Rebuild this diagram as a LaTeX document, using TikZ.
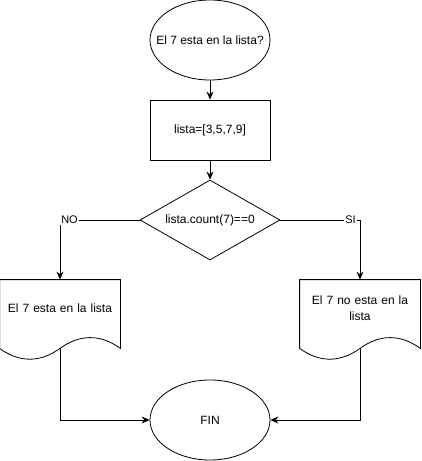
\documentclass[tikz,border=0pt]{standalone}
\usepackage{fontspec}
\newfontfamily\chartfont{Liberation Sans}
\usetikzlibrary{arrows.meta,calc,shapes.geometric}

% document shape: straight top and sides, wavy bottom
\newcommand{\docoutline}[1]{%
  \draw (#1.north west) -- (#1.north east) -- ($(#1.south east)+(0,12)$)
    .. controls ($(#1.south east)+(-20,-2.4)$) and ($(#1.south)+(20,-2.4)$) .. ($(#1.south)+(0,12)$)
    .. controls ($(#1.south)+(-20,26.4)$) and ($(#1.south west)+(20,26.4)$) .. ($(#1.south west)+(0,12)$)
    -- cycle;}

\begin{document}
\begin{tikzpicture}[x=1pt,y=-1pt,line width=0.8pt,
  every node/.style={font=\chartfont\fontsize{12}{16}\selectfont},
  flow/.style={-{Stealth[length=8pt,width=7pt]}},
  oval/.style={draw,ellipse,minimum width=120pt,minimum height=80pt,inner sep=0pt},
  box/.style={draw,rectangle,minimum width=120pt,minimum height=60pt},
  test/.style={draw,diamond,minimum width=140pt,minimum height=80pt,inner sep=0pt},
  docbox/.style={rectangle,minimum width=120pt,minimum height=56pt,inner sep=0pt,text width=116pt,align=center},
  tag/.style={fill=white,inner sep=1pt,font=\chartfont\fontsize{11}{13}\selectfont}]
\useasboundingbox (0,0) rectangle (421,461);

% Start and setup
\node[oval,label=center:{El 7 esta en la lista?}] (ini) at (210,40) {};
\node[box] (lista) at (210,130) {lista=[3,5,7,9]};

% Decision
\node[test,label=center:{lista.count(7)==0}] (cond) at (210,220) {};

% Outputs
\node[docbox] (docno) at (60,308) {El 7 esta en la lista};
\docoutline{docno}
\node[docbox] (docsi) at (360,308) {El 7 no esta en la\\lista};
\docoutline{docsi}
\coordinate (noend) at ($(docno.south)+(0,12)$);
\coordinate (siend) at ($(docsi.south)+(0,12)$);

% End
\node[oval] (fin) at (210,420) {FIN};

% Connectors
\draw[flow] (ini) -- (lista);
\draw[flow] (lista) -- (cond);
\draw[flow] (cond.west) -| node[tag,pos=0.44]{NO} (docno.north);
\draw[flow] (cond.east) -| node[tag,pos=0.44]{SI} (docsi.north);
\draw[flow] (noend) |- (fin);
\draw[flow] (siend) |- (fin);
\end{tikzpicture}
\end{document}
